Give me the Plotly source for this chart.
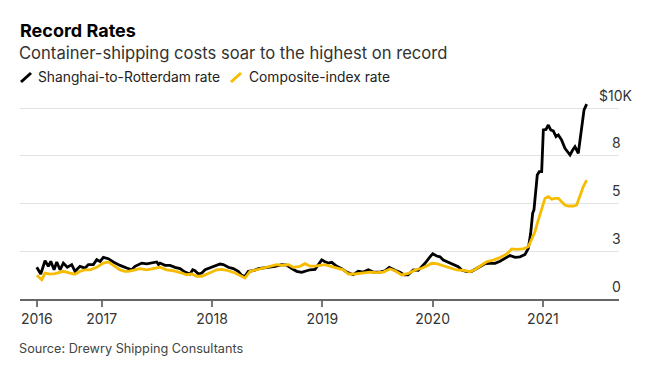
import plotly.graph_objects as go

# ---- Data (values in $ thousands, time in decimal years) ----
rotterdam_t = [2016.411, 2016.447, 2016.486, 2016.516, 2016.538, 2016.568, 2016.592, 2016.622, 2016.652, 2016.688,
               2016.728, 2016.758, 2016.803, 2016.849, 2016.879, 2016.924, 2016.955, 2016.985, 2017.015, 2017.060,
               2017.105, 2017.150, 2017.166, 2017.227, 2017.272, 2017.302, 2017.332, 2017.363, 2017.408, 2017.453,
               2017.499, 2017.515, 2017.529, 2017.574, 2017.619, 2017.665, 2017.710, 2017.755, 2017.801, 2017.825,
               2017.846, 2017.876, 2017.907, 2017.937, 2017.982, 2018.027, 2018.073, 2018.102, 2018.148, 2018.193,
               2018.238, 2018.269, 2018.299, 2018.329, 2018.374, 2018.420, 2018.465, 2018.510, 2018.571, 2018.632,
               2018.677, 2018.723, 2018.768, 2018.813, 2018.843, 2018.888, 2018.934, 2018.964, 2018.995, 2019.024,
               2019.054, 2019.085, 2019.131, 2019.176, 2019.221, 2019.281, 2019.326, 2019.372, 2019.417, 2019.462,
               2019.523, 2019.568, 2019.607, 2019.659, 2019.704, 2019.741, 2019.777, 2019.825, 2019.870, 2019.901,
               2019.931, 2019.976, 2020.001, 2020.037, 2020.067, 2020.097, 2020.128, 2020.158, 2020.203, 2020.233,
               2020.264, 2020.309, 2020.354, 2020.400, 2020.445, 2020.475, 2020.520, 2020.566, 2020.611, 2020.656,
               2020.702, 2020.747, 2020.792, 2020.838, 2020.868, 2020.889, 2020.907, 2020.919, 2020.937, 2020.949,
               2020.967, 2020.989, 2021.004, 2021.028, 2021.049, 2021.071, 2021.094, 2021.119, 2021.140, 2021.170,
               2021.200, 2021.230, 2021.246, 2021.270, 2021.291, 2021.321, 2021.352, 2021.373, 2021.397]
rotterdam_v = [1.66, 1.31, 2.00, 1.71, 1.97, 1.53, 1.94, 1.53, 1.88, 1.66,
               1.80, 1.45, 1.71, 1.62, 1.80, 1.80, 2.06, 1.97, 2.18, 2.11,
               1.94, 1.80, 1.76, 1.62, 1.53, 1.71, 1.80, 1.88, 1.84, 1.88,
               1.94, 1.80, 1.88, 1.76, 1.76, 1.66, 1.59, 1.41, 1.31, 1.53,
               1.48, 1.31, 1.36, 1.53, 1.64, 1.71, 1.83, 1.80, 1.66, 1.59,
               1.45, 1.24, 1.19, 1.45, 1.48, 1.59, 1.62, 1.66, 1.71, 1.80,
               1.78, 1.59, 1.45, 1.40, 1.45, 1.53, 1.55, 1.80, 2.05, 1.95,
               1.88, 1.92, 1.71, 1.59, 1.41, 1.27, 1.45, 1.41, 1.53, 1.41,
               1.41, 1.48, 1.66, 1.50, 1.40, 1.26, 1.26, 1.52, 1.50, 1.69,
               1.87, 2.21, 2.37, 2.25, 2.21, 2.04, 1.96, 1.87, 1.78, 1.69,
               1.52, 1.43, 1.45, 1.60, 1.72, 1.85, 1.87, 1.87, 1.98, 2.13,
               2.28, 2.18, 2.21, 2.33, 2.65, 3.44, 4.49, 4.66, 5.71, 6.49,
               6.67, 6.67, 8.85, 8.88, 9.11, 8.85, 8.80, 8.50, 8.59, 8.32,
               7.89, 7.63, 7.54, 7.80, 7.97, 7.63, 9.02, 9.90, 10.20]

composite_t = [2016.411, 2016.456, 2016.486, 2016.531, 2016.577, 2016.622, 2016.652, 2016.713, 2016.758, 2016.803,
               2016.849, 2016.894, 2016.955, 2017.015, 2017.060, 2017.105, 2017.166, 2017.211, 2017.241, 2017.302,
               2017.347, 2017.408, 2017.468, 2017.529, 2017.589, 2017.649, 2017.725, 2017.771, 2017.816, 2017.861,
               2017.907, 2017.952, 2017.982, 2018.043, 2018.088, 2018.148, 2018.209, 2018.269, 2018.299, 2018.345,
               2018.405, 2018.465, 2018.526, 2018.587, 2018.632, 2018.692, 2018.737, 2018.798, 2018.843, 2018.888,
               2018.934, 2018.964, 2019.024, 2019.070, 2019.131, 2019.190, 2019.236, 2019.296, 2019.357, 2019.432,
               2019.493, 2019.553, 2019.614, 2019.659, 2019.720, 2019.780, 2019.840, 2019.901, 2019.947, 2019.992,
               2020.037, 2020.097, 2020.158, 2020.218, 2020.278, 2020.339, 2020.384, 2020.430, 2020.490, 2020.550,
               2020.611, 2020.672, 2020.717, 2020.762, 2020.822, 2020.868, 2020.898, 2020.928, 2020.949, 2020.967,
               2020.989, 2021.019, 2021.049, 2021.080, 2021.110, 2021.140, 2021.170, 2021.200, 2021.230, 2021.276,
               2021.306, 2021.336, 2021.366, 2021.397]
composite_v = [1.24, 1.01, 1.36, 1.30, 1.33, 1.38, 1.45, 1.36, 1.30, 1.45,
               1.53, 1.53, 1.66, 1.88, 1.94, 1.76, 1.52, 1.45, 1.45, 1.53,
               1.59, 1.53, 1.59, 1.66, 1.53, 1.48, 1.36, 1.27, 1.31, 1.19,
               1.19, 1.31, 1.36, 1.53, 1.55, 1.48, 1.36, 1.19, 1.10, 1.45,
               1.53, 1.62, 1.71, 1.80, 1.76, 1.80, 1.66, 1.71, 1.85, 1.72,
               1.72, 1.76, 1.80, 1.72, 1.62, 1.53, 1.31, 1.31, 1.36, 1.41,
               1.38, 1.41, 1.57, 1.48, 1.26, 1.34, 1.52, 1.61, 1.73, 1.87,
               1.85, 1.73, 1.61, 1.52, 1.50, 1.43, 1.55, 1.72, 1.95, 2.04,
               2.17, 2.36, 2.62, 2.60, 2.62, 2.74, 3.09, 3.52, 3.96, 4.31,
               4.66, 5.27, 5.36, 5.22, 5.27, 5.27, 5.09, 4.92, 4.87, 4.87,
               4.92, 5.45, 5.88, 6.23]

x_tick_vals = [2016.411, 2017, 2018, 2019, 2020, 2021]
x_tick_text = ["2016", "2017", "2018", "2019", "2020", "2021"]
y_tick_vals = [0, 2.5, 5, 7.5, 10]
y_tick_text = ["0", "3", "5", "8", "$10K"]

series_names = ["Shanghai-to-Rotterdam rate", "Composite-index rate"]
BLACK = "#000000"
YELLOW = "#F5BC00"
FONT = "Inter, Liberation Sans, Arial, sans-serif"

# page layout (browser page coords); the page body adds an 8px margin
OFF = 8
PAGE_W, PAGE_H = 657, 376
PLOT_L, PLOT_R, PLOT_T, PLOT_B = 20, 619, 100, 299
W, H = PAGE_W - OFF, PAGE_H - OFF
ML, MT = PLOT_L - OFF, PLOT_T - OFF
MR, MB = PAGE_W - PLOT_R, PAGE_H - PLOT_B
PW, PH = PLOT_R - PLOT_L, PLOT_B - PLOT_T


def px(xp):
    return (xp - PLOT_L) / PW


def py(yp):
    return (PLOT_B - yp) / PH


fig = go.Figure()
fig.add_trace(go.Scatter(x=rotterdam_t, y=rotterdam_v, mode="lines", name=series_names[0],
                         line=dict(color=BLACK, width=2.8), hoverinfo="skip"))
fig.add_trace(go.Scatter(x=composite_t, y=composite_v, mode="lines", name=series_names[1],
                         line=dict(color=YELLOW, width=2.8), hoverinfo="skip"))

annotations = [
    dict(text="<b>Record Rates</b>", x=px(18), y=py(31), xref="paper", yref="paper",
         xanchor="left", yanchor="middle", showarrow=False, font=dict(size=18, color="#000", family=FONT)),
    dict(text="Container-shipping costs soar to the highest on record", x=px(17), y=py(53),
         xref="paper", yref="paper", xanchor="left", yanchor="middle", showarrow=False,
         font=dict(size=16.6, color="#333", family=FONT)),
    dict(text=series_names[0], x=px(36), y=py(77), xref="paper", yref="paper",
         xanchor="left", yanchor="middle", showarrow=False, font=dict(size=13.8, color="#222", family=FONT)),
    dict(text=series_names[1], x=px(247), y=py(77), xref="paper", yref="paper",
         xanchor="left", yanchor="middle", showarrow=False, font=dict(size=13.8, color="#222", family=FONT)),
    dict(text="Source: Drewry Shipping Consultants", x=px(17), y=py(348), xref="paper", yref="paper",
         xanchor="left", yanchor="middle", showarrow=False, font=dict(size=12.7, color="#444", family=FONT)),
]
for v, t in zip(y_tick_vals, y_tick_text):
    annotations.append(dict(text=t, x=px(616), y=v, xref="paper", yref="y", yshift=13,
                            xanchor="center", yanchor="middle", showarrow=False,
                            font=dict(size=14, color="#333", family=FONT)))

shapes = [
    dict(type="line", xref="paper", yref="paper", x0=px(21), y0=py(82), x1=px(31), y1=py(73),
         line=dict(color=BLACK, width=3)),
    dict(type="line", xref="paper", yref="paper", x0=px(231), y0=py(82), x1=px(241), y1=py(73),
         line=dict(color=YELLOW, width=3)),
]

fig.update_layout(
    width=W, height=H,
    margin=dict(l=ML, r=MR, t=MT, b=MB),
    paper_bgcolor="white", plot_bgcolor="white",
    showlegend=False,
    font=dict(family=FONT, color="#333"),
    annotations=annotations,
    shapes=shapes,
    xaxis=dict(range=[2016.259, 2021.690], tickmode="array", tickvals=x_tick_vals, ticktext=x_tick_text,
               ticks="outside", ticklen=6, tickwidth=1.5, tickcolor="#777",
               showline=True, linecolor="#666", linewidth=2, showgrid=False, zeroline=False,
               tickfont=dict(size=14, color="#333", family=FONT), fixedrange=True),
    yaxis=dict(range=[0, 10.42], tickmode="array", tickvals=y_tick_vals, showticklabels=False,
               showgrid=True, gridcolor="#e3e3e3", gridwidth=1, zeroline=False, showline=False,
               fixedrange=True),
)

fig.write_html("out.html", config={"displayModeBar": False})
